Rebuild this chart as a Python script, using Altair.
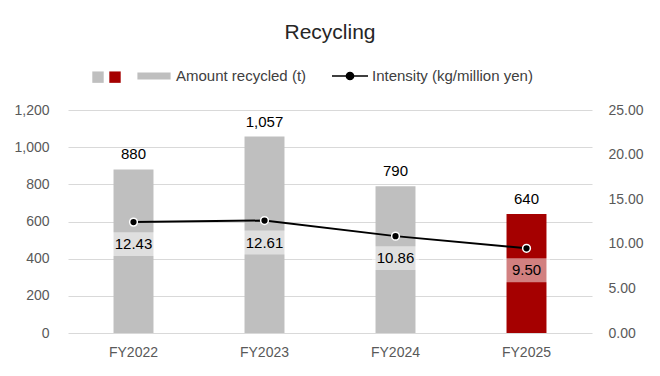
import altair as alt
import pandas as pd

# ---- data ----
years = ["FY2022", "FY2023", "FY2024", "FY2025"]
amount = [880, 1057, 790, 640]
intensity = [12.43, 12.61, 10.86, 9.50]
group = ["base", "base", "base", "hl"]
amount_text = ["880", "1,057", "790", "640"]
intensity_text = ["12.43", "12.61", "10.86", "9.50"]
series = ["Amount recycled (t)", "Intensity (kg/million yen)"]
left_ticks = [0, 200, 400, 600, 800, 1000, 1200]
right_ticks = [0, 5, 10, 15, 20, 25]

df = pd.DataFrame({
    "year": years, "amount": amount, "intensity": intensity,
    "grp": group, "amount_t": amount_text, "int_t": intensity_text,
})
legend_df = pd.DataFrame({"series": series})

FONT = "Liberation Sans"
GRAY = "#bfbfbf"
RED = "#a50000"
AXIS_TXT = "#595959"

x = alt.X("year:N", sort=years,
          scale=alt.Scale(paddingInner=0.695, paddingOuter=0.3475),
          axis=alt.Axis(title=None, labelAngle=0, ticks=False, domain=False,
                        labelPadding=12, labelFontSize=14, labelColor=AXIS_TXT,
                        labelFont=FONT, grid=False))

left_axis = alt.Axis(title=None, values=left_ticks, format=",.0f", grid=True,
                     gridColor="#d9d9d9", gridWidth=1, domain=False, ticks=False,
                     labelPadding=19, labelFontSize=14, labelColor=AXIS_TXT, labelFont=FONT)
right_axis = alt.Axis(title=None, values=right_ticks, format=".2f", grid=False,
                      orient="right", domain=False, ticks=False,
                      labelPadding=16, labelFontSize=14, labelColor=AXIS_TXT, labelFont=FONT)

yl = alt.Y("amount:Q", scale=alt.Scale(domain=[0, 1200], nice=False), axis=left_axis)
yr = alt.Y("intensity:Q", scale=alt.Scale(domain=[0, 25], nice=False), axis=right_axis)

base = alt.Chart(df)

bars = base.mark_bar().encode(
    x=x, y=yl,
    color=alt.Color("grp:N", scale=alt.Scale(domain=["base", "hl"], range=[GRAY, RED]),
                    legend=alt.Legend(orient="none", legendX=24, legendY=-39,
                                      direction="horizontal", title=None,
                                      labelExpr="''", symbolType="square",
                                      symbolSize=130, symbolStrokeWidth=0,
                                      symbolOpacity=1,
                                      labelOffset=0, columnPadding=5, padding=0)),
)
bar_labels = base.mark_text(dy=-15, baseline="middle", fontSize=15, font=FONT,
                            color="black").encode(x=x, y=yl, text="amount_t:N")

line = base.mark_line(color="black", strokeWidth=2).encode(x=x, y=yr)
points = base.mark_point(filled=True, color="black", stroke="white", strokeWidth=1.5,
                         size=60, opacity=1).encode(x=x, y=yr)
boxes = base.mark_point(shape="M-1,-0.51H1V0.51H-1Z", size=2209, filled=True,
                        color="white", opacity=0.5, strokeWidth=0,
                        yOffset=22).encode(x=x, y=yr)
line_labels = base.mark_text(dy=22, baseline="middle", fontSize=15, font=FONT,
                             color="black").encode(x=x, y=yr, text="int_t:N")

leg = alt.Legend(orient="none", legendX=67, legendY=-53, direction="horizontal",
                 title=None, symbolSize=1296, symbolStrokeWidth=1.5, symbolOpacity=1,
                 labelFontSize=15, labelFont=FONT, labelColor="#404040", labelLimit=400,
                 labelOffset=3, columnPadding=22, padding=0)
rect_path = "M-0.88,-0.15H0.88V0.15H-0.88Z"
line_path = "M-1,0H1M-0.2,0A0.2,0.2,0,1,0,0.2,0A0.2,0.2,0,1,0,-0.2,0Z"
legend_layer = alt.Chart(legend_df).mark_point(filled=True, opacity=1).encode(
    fill=alt.Fill("series:N", scale=alt.Scale(domain=series, range=[GRAY, "black"]), legend=leg),
    stroke=alt.Stroke("series:N", scale=alt.Scale(domain=series, range=[GRAY, "black"]), legend=leg),
    shape=alt.Shape("series:N", scale=alt.Scale(domain=series, range=[rect_path, line_path]), legend=leg),
).transform_filter("false")

chart = alt.layer(
    alt.layer(bars, bar_labels),
    alt.layer(line, points, boxes, line_labels),
    legend_layer,
).resolve_scale(y="independent").properties(
    width=524, height=223,
    padding={"left": 68, "top": 110, "right": 68, "bottom": 43},
    autosize=alt.AutoSizeParams(type="none"),
    background="white",
    title=alt.TitleParams("Recycling", fontSize=21, font=FONT, color="#262626",
                          fontWeight="normal", anchor="middle", offset=14),
).configure_view(stroke=None)

chart.save("out.html", embed_options={"renderer": "svg", "actions": False})
